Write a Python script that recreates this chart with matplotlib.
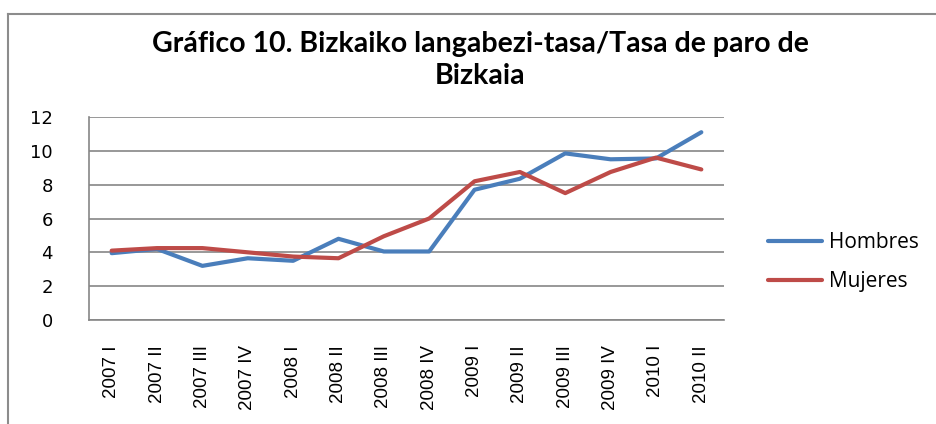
import matplotlib
matplotlib.use("Agg")
import matplotlib.pyplot as plt
from matplotlib.lines import Line2D

categories = ["2007 I", "2007 II", "2007 III", "2007 IV", "2008 I", "2008 II", "2008 III",
              "2008 IV", "2009 I", "2009 II", "2009 III", "2009 IV", "2010 I", "2010 II"]
hombres = [3.95, 4.2, 3.2, 3.65, 3.5, 4.8, 4.05, 4.05, 7.7, 8.35, 9.85, 9.5, 9.55, 11.1]
mujeres = [4.1, 4.25, 4.25, 4.0, 3.75, 3.65, 4.95, 6.0, 8.2, 8.75, 7.5, 8.75, 9.6, 8.9]
yticks = [0, 2, 4, 6, 8, 10, 12]
title = "Gráfico 10. Bizkaiko langabezi-tasa/Tasa de paro de\nBizkaia"

blue = "#4A7EBB"
red = "#BE4B48"
grid = "#868686"

fig = plt.figure(figsize=(9.37, 4.24), dpi=100)
fig.patch.set_facecolor("white")

# outer chart border (top and left visible)
fig.add_artist(Line2D([8/937, 8/937], [0, 1 - 14/424], transform=fig.transFigure,
                      color="#8c8c8c", lw=1.5))
fig.add_artist(Line2D([8/937, 1], [1 - 14/424, 1 - 14/424], transform=fig.transFigure,
                      color="#8c8c8c", lw=1.5))

ax = fig.add_axes([89/937, 1 - 320/424, 635/937, 203/424])
x = list(range(len(categories)))
ax.plot(x, hombres, color=blue, lw=3.0, solid_capstyle="round", solid_joinstyle="round", label="Hombres", zorder=3)
ax.plot(x, mujeres, color=red, lw=3.0, solid_capstyle="round", solid_joinstyle="round", label="Mujeres", zorder=3)

ax.set_xlim(-0.5, len(categories) - 0.5)
ax.set_ylim(0, 12)
ax.set_yticks(yticks)
ax.set_yticklabels([str(v) for v in yticks], fontsize=13, family="DejaVu Sans")
ax.set_xticks(x)
ax.set_xticklabels(categories, rotation=90, fontsize=13.5, family="Liberation Sans")
ax.tick_params(axis="y", length=0, pad=26)
ax.tick_params(axis="x", length=0, pad=18)
ax.yaxis.grid(True, color=grid, lw=1.2)
ax.set_axisbelow(True)
for s in ["top", "right"]:
    ax.spines[s].set_visible(False)
ax.spines["left"].set_color(grid)
ax.spines["left"].set_linewidth(1.2)
ax.spines["bottom"].set_color(grid)
ax.spines["bottom"].set_linewidth(1.2)

fig.text(480/937, 1 - 60/424, title, ha="center", va="center", fontsize=20.5,
         fontweight="bold", family="Lato", linespacing=1.28)

leg = ax.legend(loc="center left", bbox_to_anchor=(749/937, 1 - 262/424),
                bbox_transform=fig.transFigure, frameon=False,
                prop={"family": "Open Sans", "size": 15}, handlelength=2.6,
                handletextpad=0.35, labelspacing=0.85)

fig.savefig("out.png", dpi=100)
